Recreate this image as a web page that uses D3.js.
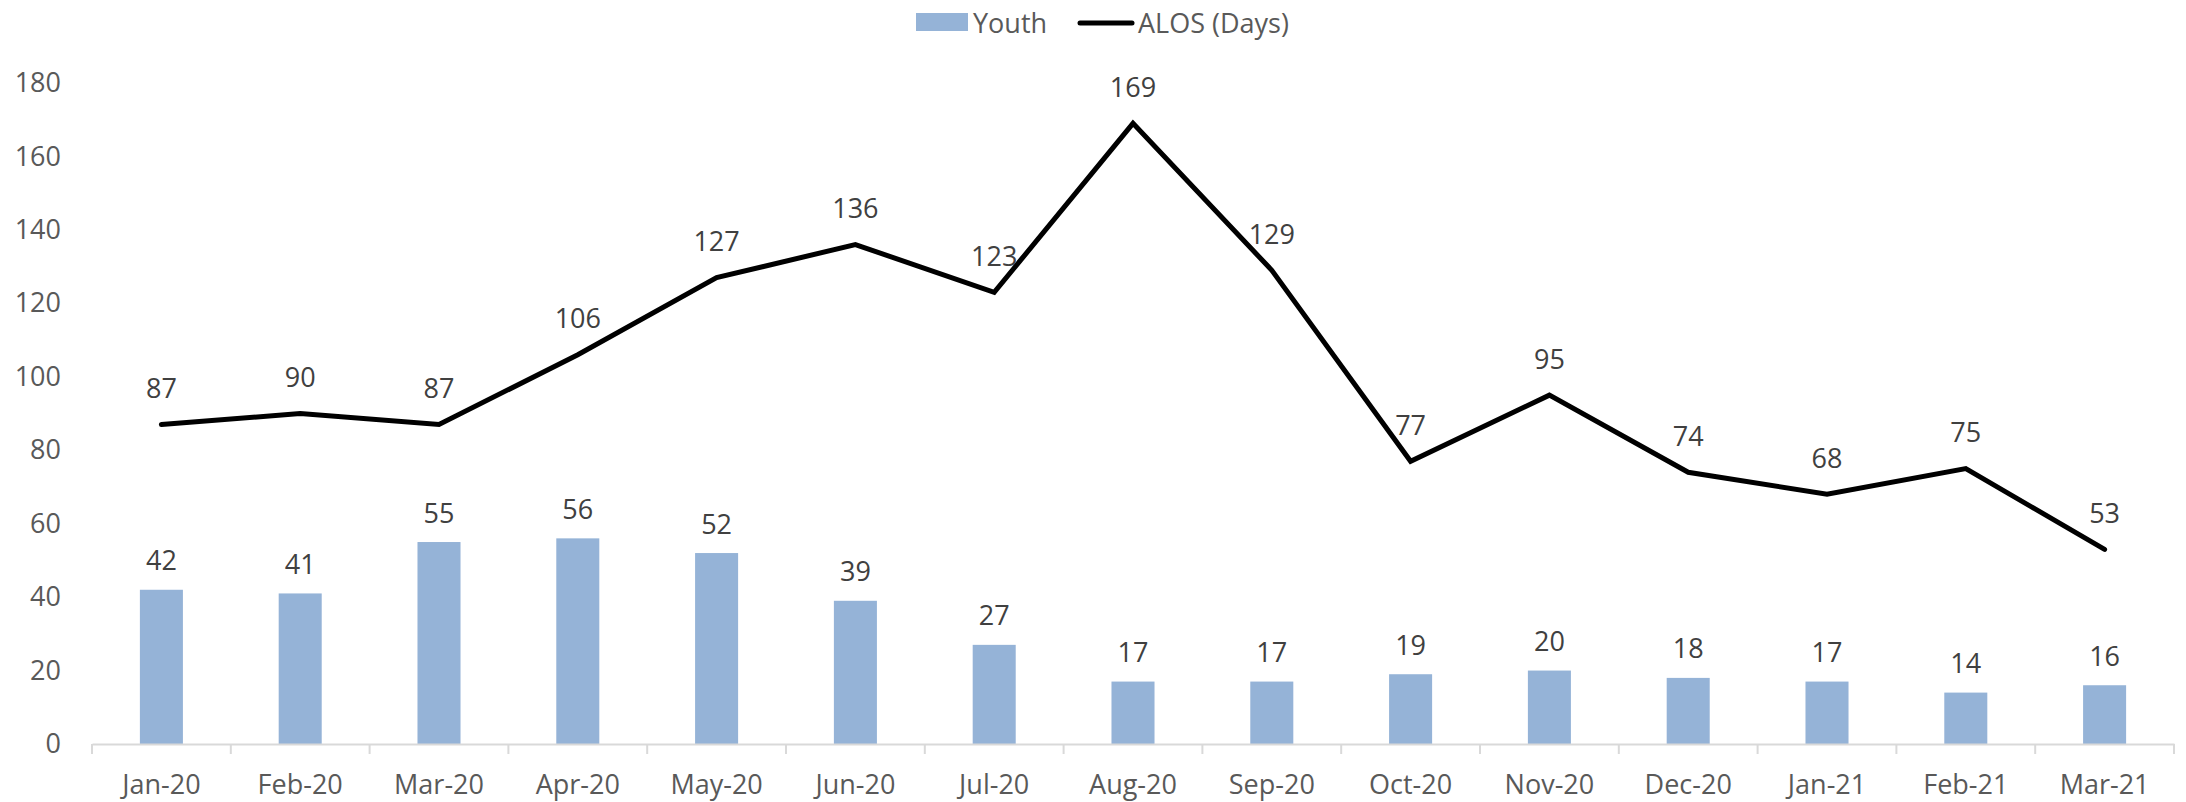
<!DOCTYPE html>
<html>
<head>
<meta charset="utf-8">
<script src="https://cdn.jsdelivr.net/npm/d3@7"></script>
<style>
  html, body { margin: 0; padding: 0; background: #fff; }
  svg { display: block; font-family: "Open Sans", sans-serif; }
</style>
</head>
<body>
<svg id="chart" width="2186" height="802"></svg>
<script>
const months = ["Jan-20","Feb-20","Mar-20","Apr-20","May-20","Jun-20","Jul-20","Aug-20","Sep-20","Oct-20","Nov-20","Dec-20","Jan-21","Feb-21","Mar-21"];
const youth = [42,41,55,56,52,39,27,17,17,19,20,18,17,14,16];
const alos = [87,90,87,106,127,136,123,169,129,77,95,74,68,75,53];
const yTicks = [0,20,40,60,80,100,120,140,160,180];

(function () {
const svg = d3.select("#chart");
const plotLeft = 92, plotRight = 2174, plotBottom = 744, plotTop = 83;
const x = d3.scaleBand().domain(months).range([plotLeft, plotRight]).paddingInner(0).paddingOuter(0);
const y = d3.scaleLinear().domain([0, 180]).range([plotBottom, plotTop]);
const fs = 27;
const axisColor = "#D9D9D9";
const textColor = "#595959";
const labelColor = "#404040";

// Y axis labels
const yAxis = svg.append("g").attr("transform", `translate(61,0)`)
  .call(d3.axisLeft(y).tickValues(yTicks).tickSize(0).tickPadding(0));
yAxis.select(".domain").remove();
yAxis.selectAll("text").attr("fill", textColor).style("font-size", fs + "px").style("font-family", "Open Sans");

// Bars
const bw = x.bandwidth() * 0.31;
svg.append("g").selectAll("rect").data(months).join("rect")
  .attr("x", (d) => x(d) + x.bandwidth() / 2 - bw / 2)
  .attr("y", (d, i) => y(youth[i]))
  .attr("width", bw)
  .attr("height", (d, i) => plotBottom - y(youth[i]))
  .attr("fill", "#95B3D7");

// X axis: labels at centres, ticks at boundaries
const xAxis = svg.append("g").attr("transform", `translate(0,${plotBottom})`)
  .call(d3.axisBottom(x).tickSize(0).tickPadding(0));
xAxis.select(".domain").attr("stroke", axisColor).attr("stroke-width", 2);
xAxis.selectAll("text").attr("fill", textColor).style("font-size", fs + "px")
  .style("font-family", "Open Sans").attr("dy", null).attr("y", 50);
const bounds = d3.range(months.length + 1);
svg.append("g").selectAll("line").data(bounds).join("line")
  .attr("x1", (i) => plotLeft + i * x.step()).attr("x2", (i) => plotLeft + i * x.step())
  .attr("y1", plotBottom).attr("y2", plotBottom + 10)
  .attr("stroke", axisColor).attr("stroke-width", 2);

// Line
const line = d3.line().x((d, i) => x(months[i]) + x.bandwidth() / 2).y((d) => y(d));
svg.append("path").datum(alos).attr("d", line)
  .attr("fill", "none").attr("stroke", "#000").attr("stroke-width", 5)
  .attr("stroke-linejoin", "miter").attr("stroke-linecap", "round");

// Bar labels
svg.append("g").selectAll("text").data(youth).join("text")
  .attr("x", (d, i) => x(months[i]) + x.bandwidth() / 2)
  .attr("y", (d) => y(d) - 30)
  .attr("text-anchor", "middle").attr("dominant-baseline", "central")
  .attr("fill", labelColor).style("font-size", fs + "px").text((d) => d);

// Line labels
svg.append("g").selectAll("text").data(alos).join("text")
  .attr("x", (d, i) => x(months[i]) + x.bandwidth() / 2)
  .attr("y", (d) => y(d) - 37)
  .attr("text-anchor", "middle").attr("dominant-baseline", "central")
  .attr("fill", labelColor).style("font-size", fs + "px").text((d) => d);

// Legend
const lg = svg.append("g");
lg.append("rect").attr("x", 916).attr("y", 13).attr("width", 52).attr("height", 18).attr("fill", "#95B3D7");
lg.append("text").attr("x", 973).attr("y", 22).attr("dominant-baseline", "central")
  .attr("fill", textColor).style("font-size", fs + "px").text("Youth");
lg.append("line").attr("x1", 1080).attr("x2", 1132).attr("y1", 23).attr("y2", 23)
  .attr("stroke", "#000").attr("stroke-width", 5).attr("stroke-linecap", "round");
lg.append("text").attr("x", 1138).attr("y", 22).attr("dominant-baseline", "central")
  .attr("fill", textColor).style("font-size", fs + "px").text("ALOS (Days)");
})();
</script>
</body>
</html>
